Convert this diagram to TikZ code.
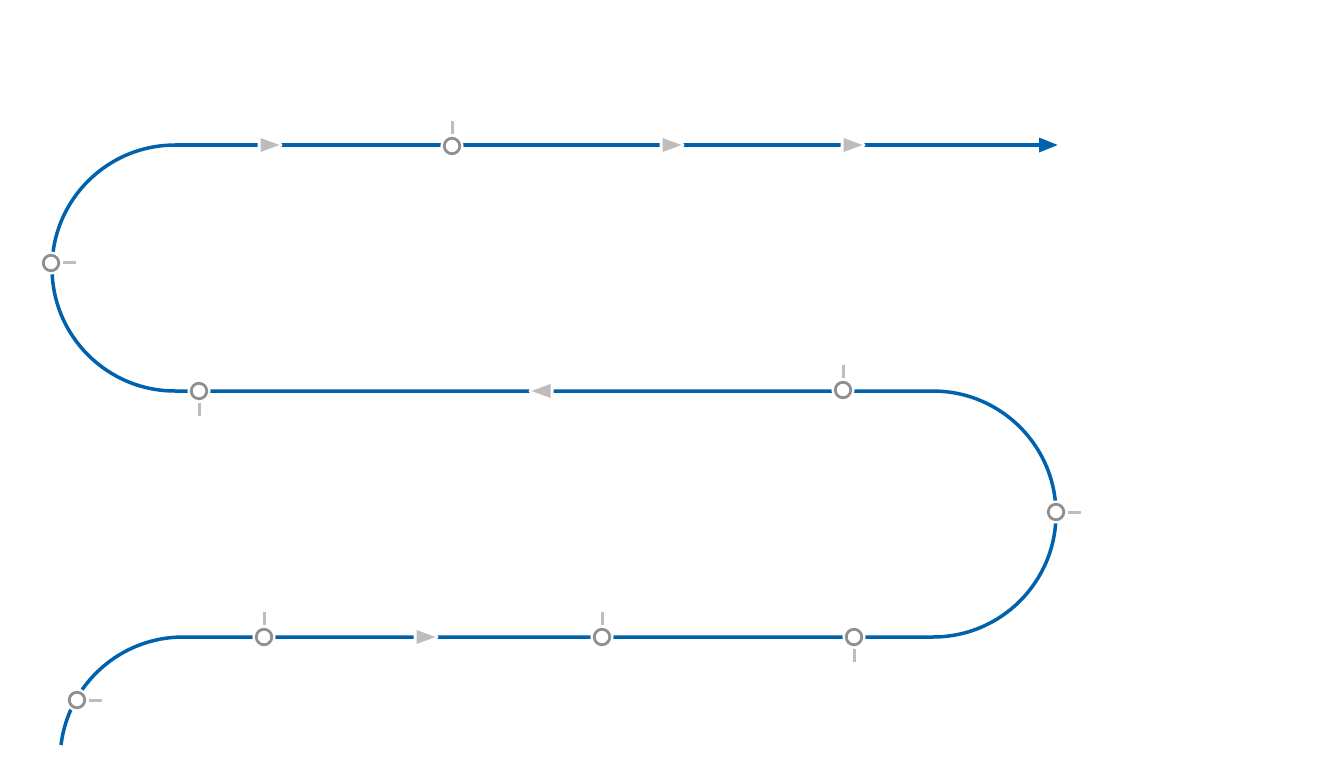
\documentclass[tikz,border=0pt]{standalone}
\usepackage{tikz}
\usetikzlibrary{arrows.meta,positioning}
\definecolor{trackblue}{HTML}{0061AD}
\definecolor{ringgray}{HTML}{8F8F8F}
\definecolor{softgray}{HTML}{BDBDBD}
\tikzset{
  track/.style={draw=trackblue, line width=0.07cm},
  milestone/.style={circle, draw=ringgray, fill=white, line width=0.055cm,
    inner sep=0pt, minimum size=0.31cm, preaction={draw=white, line width=0.15cm}},
  tickline/.style={draw=softgray, line width=0.06cm},
  dirhead/.style={fill=softgray, preaction={draw=white, line width=0.12cm, line join=round}}
}
\begin{document}
\begin{tikzpicture}[x=0.02cm, y=0.02cm]
        \useasboundingbox (0,0) rectangle (1344,768);
        % track corners
        \coordinate (start) at (61,23);
        \coordinate (lowright) at (933,131);
        \coordinate (midleft) at (175,377);
        \coordinate (topleft) at (175,623);
        \coordinate (finish) at (1058,623);
        \draw[track] (start)
          arc[start angle=173, end angle=90, radius=2.46cm] -- (lowright)
          arc[start angle=-90, end angle=90, radius=2.46cm] -- (midleft)
          arc[start angle=270, end angle=90, radius=2.46cm];
        \draw[track, -{Triangle[length=0.38cm, width=0.28cm]}] (topleft) -- (finish);
        % direction heads
        \coordinate (head1) at (270,623);
        \coordinate (head2) at (672,623);
        \coordinate (head3) at (853,623);
        \coordinate (head4) at (541,377);
        \coordinate (head5) at (426,131);
        \fill[dirhead] (head1) ++(9.5,0) -- ++(-19,7) -- ++(0,-14) -- cycle;
        \fill[dirhead] (head2) ++(9.5,0) -- ++(-19,7) -- ++(0,-14) -- cycle;
        \fill[dirhead] (head3) ++(9.5,0) -- ++(-19,7) -- ++(0,-14) -- cycle;
        \fill[dirhead] (head4) ++(-9.5,0) -- ++(19,7) -- ++(0,-14) -- cycle;
        \fill[dirhead] (head5) ++(9.5,0) -- ++(-19,7) -- ++(0,-14) -- cycle;
        % milestones
        \node[milestone] (stop1) at (452,622) {};
        \node[milestone] (stop2) at (51,505) {};
        \node[milestone] (stop3) at (199,377) {};
        \node[milestone] (stop4) at (843,378) {};
        \node[milestone] (stop5) at (1056,256) {};
        \node[milestone] (stop6) at (854,131) {};
        \node[milestone] (stop7) at (602,131) {};
        \node[milestone] (stop8) at (264,131) {};
        \node[milestone] (stop9) at (77,68) {};
        \draw[tickline] (stop1.north) ++(0,3) -- ++(0,13);
        \draw[tickline] (stop2.east) ++(3,0) -- ++(13,0);
        \draw[tickline] (stop3.south) ++(0,-3) -- ++(0,-13);
        \draw[tickline] (stop4.north) ++(0,3) -- ++(0,13);
        \draw[tickline] (stop5.east) ++(3,0) -- ++(13,0);
        \draw[tickline] (stop6.south) ++(0,-3) -- ++(0,-13);
        \draw[tickline] (stop7.north) ++(0,3) -- ++(0,13);
        \draw[tickline] (stop8.north) ++(0,3) -- ++(0,13);
        \draw[tickline] (stop9.east) ++(3,0) -- ++(13,0);
      \end{tikzpicture}
\end{document}
